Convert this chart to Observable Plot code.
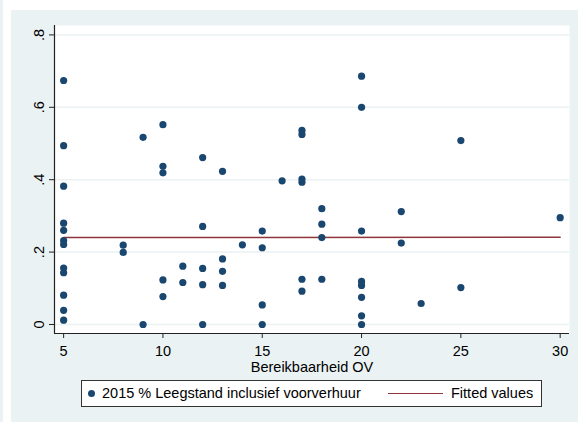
<!DOCTYPE html>
<html>
<head>
<meta charset="utf-8">
<script src="https://cdn.jsdelivr.net/npm/d3@7"></script>
<script src="https://cdn.jsdelivr.net/npm/@observablehq/plot@0.6"></script>
<style>
  html, body { margin: 0; padding: 0; background: #ffffff; }
  #wrap { position: relative; width: 578px; height: 422px; overflow: hidden; font-family: "Liberation Sans", Arial, sans-serif; }
  #bg { position: absolute; left: 11px; top: 10px; width: 567px; height: 412px; background: #eaf2f3; }
  #strip { position: absolute; left: 0; top: 0; width: 3px; height: 422px; background: #eaf2f3; }
  #chart { position: absolute; left: 0; top: 0; }
  #legend { position: absolute; left: 81px; top: 380px; width: 459px; height: 25px; background: #fff; border: 1px solid #333; }
  #legend .item { position: absolute; top: 0; height: 25px; line-height: 25px; font-size: 14.5px; color: #000; white-space: nowrap; }
  #legend .dot { position: absolute; left: 6px; top: 9px; width: 7px; height: 7px; border-radius: 50%; background: #1a476f; }
  #legend .ln { position: absolute; left: 306px; top: 12px; width: 55px; height: 0; border-top: 1.2px solid #90353b; }
</style>
</head>
<body>
<div id="wrap">
  <div id="strip"></div>
  <div id="bg"></div>
  <div id="chart"></div>
  <div id="legend">
    <div class="dot"></div>
    <div class="item" style="left:20px" id="lab1"></div>
    <div class="ln"></div>
    <div class="item" style="left:369px" id="lab2"></div>
  </div>
</div>
<script>
// Bereikbaarheid OV (x) and 2015 % Leegstand inclusief voorverhuur (y)
const bereikbaarheid = [
  5,5,5,5,5,5,5,5,5,5,5,5,
  8,8,
  9,9,
  10,10,10,10,10,
  11,11,
  12,12,12,12,12,
  13,13,13,13,
  14,
  15,15,15,15,
  16,
  17,17,17,17,17,17,
  18,18,18,18,
  20,20,20,20,20,20,20,20,
  22,22,
  23,
  25,25,
  30
];
const leegstand = [
  0.674,0.494,0.382,0.280,0.260,0.232,0.221,0.156,0.143,0.081,0.039,0.012,
  0.219,0.199,
  0.517,0.0,
  0.552,0.437,0.419,0.123,0.077,
  0.161,0.116,
  0.461,0.271,0.155,0.110,0.0,
  0.423,0.181,0.147,0.108,
  0.220,
  0.258,0.212,0.054,0.0,
  0.397,
  0.536,0.525,0.402,0.393,0.125,0.092,
  0.320,0.277,0.240,0.125,
  0.686,0.600,0.258,0.119,0.108,0.075,0.024,0.0,
  0.312,0.225,
  0.058,
  0.508,0.102,
  0.295
];
// Fitted values (linear fit)
const fitX = [5, 30];
const fitY = [0.240, 0.241];

const xTicks = [5, 10, 15, 20, 25, 30];
const yTicks = [0, 0.2, 0.4, 0.6, 0.8];
const yTickLabels = ["0", ".2", ".4", ".6", ".8"];
const xTitle = "Bereikbaarheid OV";
const legendLabels = ["2015 % Leegstand inclusief voorverhuur", "Fitted values"];

const points = bereikbaarheid.map((x, i) => ({x, y: leegstand[i]}));
const fit = fitX.map((x, i) => ({x, y: fitY[i]}));

const xDomain = [4.54, 30.47];
const yDomain = [-0.0249, 0.826];

const chart = Plot.plot({
  width: 578,
  height: 378,
  marginLeft: 54,
  marginRight: 9,
  marginTop: 25,
  marginBottom: 45,
  style: { background: "transparent", fontFamily: "'Liberation Sans', Arial, sans-serif", fontSize: "14.5px", color: "#000" },
  x: { domain: xDomain },
  y: { domain: yDomain },
  marks: [
    Plot.frame({ fill: "#ffffff", stroke: "none" }),
    Plot.gridY(yTicks, { stroke: "#eaf2f3", strokeOpacity: 1, strokeWidth: 1.5 }),
    Plot.line(fit, { x: "x", y: "y", stroke: "#90353b", strokeWidth: 1.5 }),
    Plot.dot(points, { x: "x", y: "y", r: 3.6, fill: "#1a476f", stroke: "none" }),
    Plot.ruleX([xDomain[0]], { stroke: "#222", strokeWidth: 1.2 }),
    Plot.ruleY([yDomain[0]], { stroke: "#222", strokeWidth: 1.2 }),
    Plot.axisX({ ticks: xTicks, tickSize: 5, tickPadding: 7, label: xTitle, labelAnchor: "center", labelOffset: 38, labelArrow: "none", stroke: "#222", fill: "#000" }),
    Plot.axisY({ ticks: yTicks, tickSize: 5, tickPadding: 6, tickRotate: -90, tickFormat: d => yTickLabels[yTicks.indexOf(d)], label: null, stroke: "#222", fill: "#000" })
  ]
});
d3.select(chart).selectAll("text")
  .style("font-size", "14.5px")
  .style("font-family", "'Liberation Sans', Arial, sans-serif")
  .style("fill", "#000");
document.getElementById("chart").appendChild(chart);
document.getElementById("lab1").textContent = legendLabels[0];
document.getElementById("lab2").textContent = legendLabels[1];
</script>
</body>
</html>
